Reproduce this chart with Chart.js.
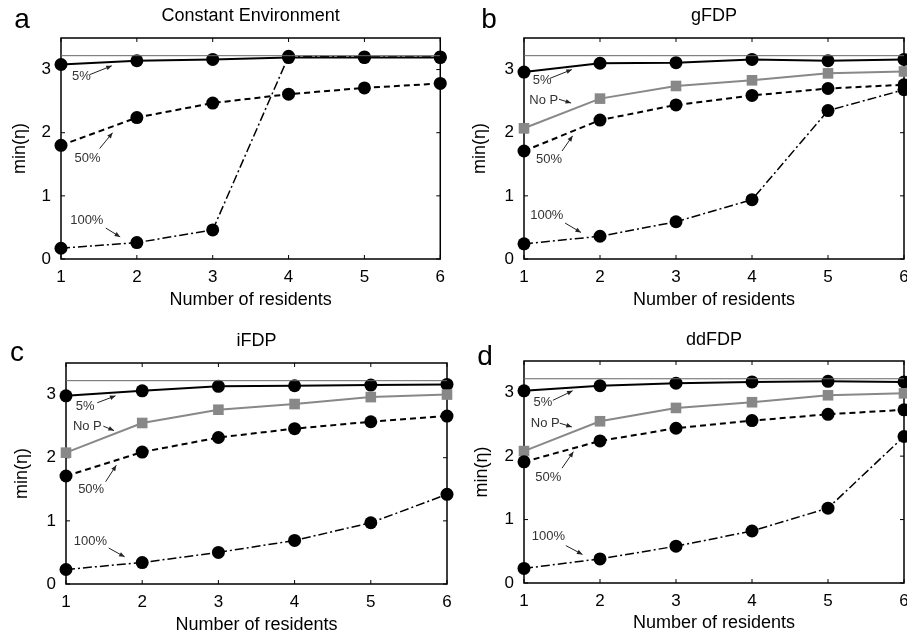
<!DOCTYPE html>
<html>
<head>
<meta charset="utf-8">
<script src="https://cdn.jsdelivr.net/npm/chart.js@4/dist/chart.umd.min.js"></script>
<style>
  body { margin: 0; background: #fff; }
  #wrap { position: relative; width: 907px; height: 639px; overflow: hidden; }
  canvas { position: absolute; }
</style>
</head>
<body>
<div id="wrap">
  <canvas id="pa" width="453" height="315" style="left:0;top:0"></canvas>
  <canvas id="pb" width="470" height="315" style="left:453px;top:0"></canvas>
  <canvas id="pc" width="470" height="324" style="left:0;top:315px"></canvas>
  <canvas id="pd" width="470" height="324" style="left:453px;top:315px"></canvas>
</div>
<script>
// x values and ticks
const residents = [1, 2, 3, 4, 5, 6];
const yTicks = [0, 1, 2, 3];
const refLevel = 3.22;

// a: Constant Environment
const constP5 = [3.08, 3.14, 3.16, 3.19, 3.19, 3.19];
const constP50 = [1.80, 2.24, 2.47, 2.61, 2.71, 2.78];
const constP100 = [0.17, 0.26, 0.46, 3.21, 3.20, 3.20];

// b: gFDP
const gfdpP5 = [2.96, 3.10, 3.11, 3.16, 3.14, 3.16];
const gfdpNoP = [2.07, 2.54, 2.74, 2.83, 2.94, 2.97];
const gfdpP50 = [1.71, 2.20, 2.44, 2.59, 2.70, 2.76];
const gfdpP100 = [0.24, 0.36, 0.59, 0.94, 2.35, 2.68];

// c: iFDP
const ifdpP5 = [2.98, 3.06, 3.13, 3.14, 3.15, 3.16];
const ifdpNoP = [2.08, 2.55, 2.76, 2.85, 2.96, 3.00];
const ifdpP50 = [1.71, 2.09, 2.32, 2.46, 2.57, 2.66];
const ifdpP100 = [0.23, 0.34, 0.50, 0.69, 0.97, 1.42];

// d: ddFDP
const ddfdpP5 = [3.03, 3.11, 3.15, 3.17, 3.18, 3.17];
const ddfdpNoP = [2.08, 2.55, 2.76, 2.85, 2.96, 2.99];
const ddfdpP50 = [1.91, 2.24, 2.44, 2.56, 2.66, 2.73];
const ddfdpP100 = [0.23, 0.38, 0.58, 0.82, 1.18, 2.31];

const FONT = "'Liberation Sans', Arial, sans-serif";

function pts(vals) {
    return vals.map((v, i) => ({ x: residents[i], y: v }));
}

// frame, inward ticks, panel letter and the little arrow labels
const decorPlugin = {
    id: 'decor',
    beforeDatasetsDraw(chart) {
        const ctx = chart.ctx;
        const a = chart.chartArea;
        const xs = chart.scales.x, ys = chart.scales.y;
        ctx.save();
        ctx.strokeStyle = '#000';
        ctx.lineWidth = 1.5;
        ctx.strokeRect(a.left, a.top, a.right - a.left, a.bottom - a.top);
        ctx.lineWidth = 1;
        ctx.beginPath();
        residents.forEach(v => {
            const px = xs.getPixelForValue(v);
            ctx.moveTo(px, a.bottom); ctx.lineTo(px, a.bottom - 4);
            ctx.moveTo(px, a.top); ctx.lineTo(px, a.top + 4);
        });
        yTicks.forEach(v => {
            const py = ys.getPixelForValue(v);
            ctx.moveTo(a.left, py); ctx.lineTo(a.left + 4, py);
            ctx.moveTo(a.right, py); ctx.lineTo(a.right - 4, py);
        });
        ctx.stroke();
        ctx.restore();
    },
    afterDraw(chart, args, opts) {
        const ctx = chart.ctx;
        const xs = chart.scales.x, ys = chart.scales.y;
        ctx.save();
        // panel letter
        ctx.fillStyle = '#000';
        ctx.font = '28px ' + FONT;
        ctx.textAlign = 'center';
        ctx.textBaseline = 'middle';
        ctx.fillText(opts.letter[0], opts.letter[1], opts.letter[2]);

        // labels with arrows
        ctx.font = '13px ' + FONT;
        ctx.strokeStyle = '#222';
        ctx.lineWidth = 1;
        opts.notes.forEach(n => {
            ctx.fillStyle = '#333';
            ctx.fillText(n.text, xs.getPixelForValue(n.at[0]), ys.getPixelForValue(n.at[1]));
            const x0 = xs.getPixelForValue(n.from[0]), y0 = ys.getPixelForValue(n.from[1]);
            const x1 = xs.getPixelForValue(n.to[0]), y1 = ys.getPixelForValue(n.to[1]);
            const ang = Math.atan2(y1 - y0, x1 - x0);
            ctx.beginPath();
            ctx.moveTo(x0, y0); ctx.lineTo(x1, y1);
            ctx.stroke();
            ctx.beginPath();
            ctx.moveTo(x1, y1);
            ctx.lineTo(x1 - 6 * Math.cos(ang - 0.4), y1 - 6 * Math.sin(ang - 0.4));
            ctx.lineTo(x1 - 6 * Math.cos(ang + 0.4), y1 - 6 * Math.sin(ang + 0.4));
            ctx.closePath();
            ctx.fillStyle = '#222';
            ctx.fill();
        });
        ctx.restore();
    }
};

function series(vals, style) {
    const base = {
        data: pts(vals),
        borderColor: '#000',
        backgroundColor: '#000',
        borderWidth: 2,
        pointRadius: 6.5,
        pointStyle: 'circle',
        pointBorderWidth: 0,
        tension: 0,
        clip: false
    };
    if (style === 'dash') base.borderDash = [6, 4];
    if (style === 'dashdot') { base.borderDash = [9, 3, 2, 3]; base.borderWidth = 1.5; }
    if (style === 'grey') {
        base.borderColor = '#888';
        base.backgroundColor = '#888';
        base.pointStyle = 'rect';
        base.pointRadius = 7.5;
    }
    return base;
}

function makePanel(id, cfg) {
    const datasets = [{
        data: [{ x: 1, y: refLevel }, { x: 6, y: refLevel }],
        borderColor: '#666',
        borderWidth: 1,
        pointRadius: 0
    }];
    datasets.push(series(cfg.p100, 'dashdot'));
    datasets.push(series(cfg.p50, 'dash'));
    if (cfg.noP) datasets.push(series(cfg.noP, 'grey'));
    datasets.push(series(cfg.p5, 'solid'));

    new Chart(document.getElementById(id), {
        type: 'line',
        data: { datasets: datasets },
        options: {
            responsive: false,
            animation: false,
            devicePixelRatio: 1,
            layout: { padding: { left: 0, right: cfg.padRight, top: 0, bottom: 0 } },
            plugins: {
                legend: { display: false },
                tooltip: { enabled: false },
                title: {
                    display: true,
                    text: cfg.title,
                    fullSize: false,
                    color: '#000',
                    font: { family: FONT, size: 18, weight: 'normal', lineHeight: 1.2 },
                    padding: { top: cfg.titleTop, bottom: cfg.titleBottom }
                },
                decor: { letter: cfg.letter, notes: cfg.notes }
            },
            scales: {
                x: {
                    type: 'linear',
                    min: 1, max: 6,
                    grid: { display: false, drawTicks: false },
                    border: { display: false },
                    afterBuildTicks: s => { s.ticks = residents.map(v => ({ value: v })); },
                    afterFit: s => { s.height = cfg.xH; },
                    ticks: { color: '#000', padding: 8, font: { family: FONT, size: 17 } },
                    title: {
                        display: true,
                        text: 'Number of residents',
                        color: '#000',
                        font: { family: FONT, size: 18, lineHeight: 1.2 },
                        padding: { top: 0, bottom: cfg.xTitlePad }
                    }
                },
                y: {
                    min: 0, max: 3.5,
                    grid: { display: false, drawTicks: false },
                    border: { display: false },
                    afterBuildTicks: s => { s.ticks = yTicks.map(v => ({ value: v })); },
                    afterFit: s => { s.width = cfg.yW; },
                    ticks: { color: '#000', padding: 10, font: { family: FONT, size: 17 } },
                    title: {
                        display: true,
                        text: 'min(η)',
                        color: '#000',
                        font: { family: FONT, size: 18, lineHeight: 1.2 },
                        padding: { top: cfg.yTitlePad, bottom: 0 }
                    }
                }
            }
        },
        plugins: [decorPlugin]
    });
}

makePanel('pa', {
    title: 'Constant Environment', p5: constP5, p50: constP50, p100: constP100,
    padRight: 10, yW: 61, xH: 56, titleTop: 5, titleBottom: 11.4, xTitlePad: 4, yTitlePad: 9,
    letter: ['a', 22, 20],
    notes: [
        { text: '5%', at: [1.27, 2.89], from: [1.38, 2.92], to: [1.67, 3.06] },
        { text: '50%', at: [1.35, 1.60], from: [1.51, 1.75], to: [1.68, 2.0] },
        { text: '100%', at: [1.34, 0.61], from: [1.59, 0.49], to: [1.78, 0.35] }
    ]
});

makePanel('pb', {
    title: 'gFDP', p5: gfdpP5, noP: gfdpNoP, p50: gfdpP50, p100: gfdpP100,
    padRight: 19, yW: 71, xH: 56, titleTop: 5, titleBottom: 11.4, xTitlePad: 4, yTitlePad: 16,
    letter: ['b', 36, 20],
    notes: [
        { text: '5%', at: [1.24, 2.83], from: [1.34, 2.86], to: [1.63, 3.0] },
        { text: 'No P', at: [1.26, 2.51], from: [1.46, 2.53], to: [1.62, 2.47] },
        { text: '50%', at: [1.33, 1.57], from: [1.50, 1.71], to: [1.64, 1.95] },
        { text: '100%', at: [1.30, 0.69], from: [1.54, 0.57], to: [1.75, 0.42] }
    ]
});

makePanel('pc', {
    title: 'iFDP', p5: ifdpP5, noP: ifdpNoP, p50: ifdpP50, p100: ifdpP100,
    padRight: 23, yW: 66, xH: 55, titleTop: 15, titleBottom: 11.4, xTitlePad: 3, yTitlePad: 11,
    letter: ['c', 17, 38],
    notes: [
        { text: '5%', at: [1.25, 2.82], from: [1.41, 2.87], to: [1.65, 2.98] },
        { text: 'No P', at: [1.28, 2.50], from: [1.49, 2.50], to: [1.63, 2.43] },
        { text: '50%', at: [1.33, 1.49], from: [1.52, 1.62], to: [1.66, 1.88] },
        { text: '100%', at: [1.32, 0.67], from: [1.56, 0.57], to: [1.77, 0.43] }
    ]
});

makePanel('pd', {
    title: 'ddFDP', p5: ddfdpP5, noP: ddfdpNoP, p50: ddfdpP50, p100: ddfdpP100,
    padRight: 19, yW: 71, xH: 56, titleTop: 14, titleBottom: 10.4, xTitlePad: 5, yTitlePad: 18,
    letter: ['d', 32, 42],
    notes: [
        { text: '5%', at: [1.25, 2.85], from: [1.38, 2.88], to: [1.64, 3.03] },
        { text: 'No P', at: [1.28, 2.52], from: [1.47, 2.52], to: [1.63, 2.46] },
        { text: '50%', at: [1.32, 1.67], from: [1.50, 1.81], to: [1.65, 2.07] },
        { text: '100%', at: [1.32, 0.73], from: [1.55, 0.59], to: [1.77, 0.45] }
    ]
});
</script>
</body>
</html>
